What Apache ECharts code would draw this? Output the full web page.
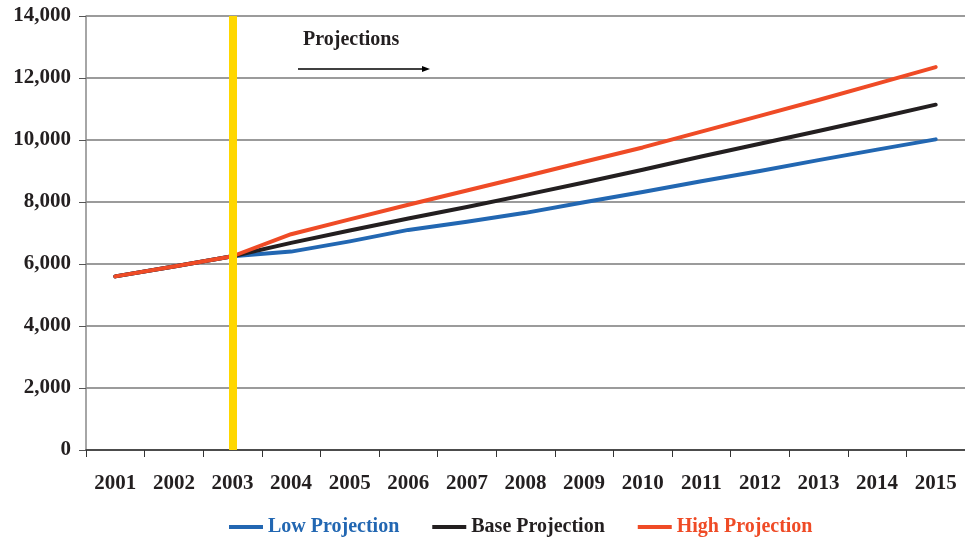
<!DOCTYPE html>
<html>
<head>
<meta charset="utf-8">
<script src="https://cdn.jsdelivr.net/npm/echarts@6/dist/echarts.min.js"></script>
<style>
  html, body { margin: 0; padding: 0; background: #fff; }
  #chart { width: 965px; height: 538px; }
</style>
</head>
<body>
<div id="chart"></div>
<script>
// Years on the category axis
const years = ['2001','2002','2003','2004','2005','2006','2007','2008','2009','2010','2011','2012','2013','2014','2015'];

// Projection scenarios (actuals through 2003, projected afterwards)
const lowProjection  = [5600, 5920, 6250, 6400, 6730, 7100, 7360, 7650, 7990, 8320, 8670, 9000, 9350, 9690, 10020];
const baseProjection = [5600, 5920, 6250, 6680, 7080, 7470, 7840, 8230, 8630, 9040, 9470, 9880, 10290, 10710, 11140];
const highProjection = [5600, 5920, 6250, 6960, 7440, 7910, 8370, 8830, 9300, 9760, 10270, 10780, 11290, 11820, 12350];

// Year where projections begin
const projectionStart = '2003';

const FONT = "'Liberation Serif', 'Times New Roman', serif";
const TEXT = '#231F20';
const BLUE = '#2267B2';
const BLACK = '#231F20';
const RED = '#EF4B26';

const chart = echarts.init(document.getElementById('chart'));

const lineSeries = (name, data, color, extra) => Object.assign({
  name: name,
  type: 'line',
  data: data,
  symbol: 'none',
  smooth: false,
  lineStyle: { color: color, width: 4, cap: 'round', join: 'round' },
  itemStyle: { color: color },
  emphasis: { disabled: true }
}, extra || {});

chart.setOption({
  animation: false,
  backgroundColor: '#fff',
  grid: { left: 86, top: 16, right: -6, bottom: 88, containLabel: false },
  legend: {
    left: 224,
    top: 512,
    icon: 'rect',
    itemWidth: 34,
    itemHeight: 4,
    itemGap: 33,
    textStyle: { fontFamily: FONT, fontWeight: 'bold', fontSize: 20 },
    data: [
      { name: 'Low Projection', textStyle: { color: BLUE } },
      { name: 'Base Projection', textStyle: { color: BLACK } },
      { name: 'High Projection', textStyle: { color: RED } }
    ]
  },
  xAxis: {
    type: 'category',
    data: years,
    boundaryGap: true,
    axisLine: { lineStyle: { color: '#333', width: 1.5 } },
    axisTick: { show: true, length: 7, lineStyle: { color: '#333', width: 1 } },
    axisLabel: {
      margin: 23,
      color: TEXT,
      fontFamily: FONT,
      fontWeight: 'bold',
      fontSize: 21
    },
    splitLine: { show: false }
  },
  yAxis: {
    type: 'value',
    min: 0,
    max: 14000,
    interval: 2000,
    axisLine: { show: true, lineStyle: { color: '#888', width: 1.5 } },
    axisTick: { show: true, length: 7, lineStyle: { color: '#555', width: 1 } },
    axisLabel: {
      margin: 15,
      color: TEXT,
      fontFamily: FONT,
      fontWeight: 'bold',
      fontSize: 21,
      formatter: v => v.toLocaleString('en-US')
    },
    splitLine: { show: true, lineStyle: { color: '#7a7a7a', width: 1.5 } }
  },
  graphic: [
    {
      type: 'text',
      left: 303,
      top: 30,
      style: { text: 'Projections', font: "bold 20px " + FONT, fill: TEXT }
    },
    {
      type: 'line',
      shape: { x1: 298, y1: 69, x2: 424, y2: 69 },
      style: { stroke: '#000', lineWidth: 1.5 }
    },
    {
      type: 'polygon',
      shape: { points: [[422, 66], [430, 69], [422, 72]] },
      style: { fill: '#000' }
    }
  ],
  series: [
    lineSeries('Low Projection', lowProjection, BLUE),
    lineSeries('Base Projection', baseProjection, BLACK),
    lineSeries('High Projection', highProjection, RED, {
      markLine: {
        silent: true,
        symbol: ['none', 'none'],
        label: { show: false },
        lineStyle: { color: '#FFD700', width: 8, type: 'solid' },
        data: [{ xAxis: projectionStart }]
      }
    })
  ]
});
</script>
</body>
</html>
